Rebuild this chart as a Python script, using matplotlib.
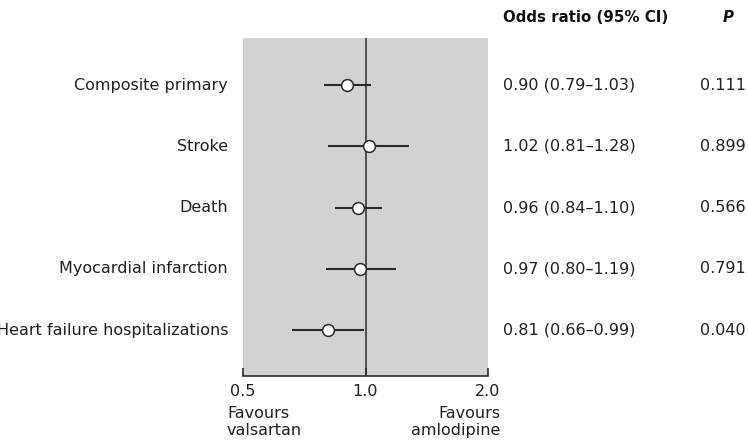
import matplotlib
matplotlib.use("Agg")
import matplotlib.pyplot as plt
from matplotlib.ticker import FixedLocator, NullLocator

plt.rcParams["font.family"] = ["DejaVu Sans"]

# Forest plot data
outcomes = [
    "Composite primary",
    "Stroke",
    "Death",
    "Myocardial infarction",
    "Heart failure hospitalizations",
]
odds_ratio = [0.90, 1.02, 0.96, 0.97, 0.81]
ci_low = [0.79, 0.81, 0.84, 0.80, 0.66]
ci_high = [1.03, 1.28, 1.10, 1.19, 0.99]
p_values = ["0.111", "0.899", "0.566", "0.791", "0.040"]
x_ticks = [0.5, 1.0, 2.0]
x_tick_labels = ["0.5", "1.0", "2.0"]

W, H = 748, 442
fig = plt.figure(figsize=(W / 100, H / 100), dpi=100)
ax = fig.add_axes([243 / W, 1 - 376 / H, 245 / W, 338 / H])

panel = "#d1d2d4"
ink = "#2a2a2a"
txt_col = "#231f20"
ax.set_facecolor(panel)
ax.set_xscale("log")
ax.set_xlim(0.5, 2.0)
n = len(outcomes)
rows = list(range(n))
ax.set_ylim(n - 1 + 0.75, -0.77)

# reference line at no effect
ax.axvline(1.0, color=ink, lw=1.1, zorder=2)

for y, o, lo, hi in zip(rows, odds_ratio, ci_low, ci_high):
    ax.plot([lo, hi], [y, y], color=ink, lw=1.5, zorder=3, solid_capstyle="butt")
    ax.plot([o], [y], marker="o", ms=8.5, mfc="white", mec=ink, mew=1.1, zorder=4)

for s in ("top", "left", "right"):
    ax.spines[s].set_visible(False)
ax.spines["bottom"].set_color(ink)
ax.spines["bottom"].set_linewidth(1.2)

ax.xaxis.set_major_locator(FixedLocator(x_ticks))
ax.xaxis.set_minor_locator(NullLocator())
ax.set_xticklabels(x_tick_labels)
ax.tick_params(axis="x", direction="in", length=6, width=1.2, color=ink,
               labelsize=11.5, labelcolor=txt_col, pad=6)
ax.set_yticks([])

# outcome labels on the left
for y, name in zip(rows, outcomes):
    ax.annotate(name, xy=(0, y), xycoords=("axes fraction", "data"),
                xytext=(-15, 0), textcoords="offset pixels",
                ha="right", va="center", fontsize=11.5, color=txt_col)

# odds ratio column and P column
for y, o, lo, hi, p in zip(rows, odds_ratio, ci_low, ci_high, p_values):
    txt = f"{o:.2f} ({lo:.2f}\u2013{hi:.2f})"
    ax.annotate(txt, xy=(1, y), xycoords=("axes fraction", "data"),
                xytext=(15, 0), textcoords="offset pixels",
                ha="left", va="center", fontsize=11.5, color=txt_col)
    ax.annotate(p, xy=(746 / W, y), xycoords=("figure fraction", "data"),
                ha="right", va="center", fontsize=11.5, color=txt_col)

fig.text(503 / W, 1 - 17 / H, "Odds ratio (95% CI)", ha="left", va="center",
         fontsize=10.8, fontweight="bold", color="#111111")
fig.text(728 / W, 1 - 17 / H, "P", ha="center", va="center",
         fontsize=10.8, fontweight="bold", fontstyle="italic", color="#111111")

fig.text(227 / W, 1 - 422 / H, "Favours\nvalsartan", ha="left", va="center",
         fontsize=11.5, color=txt_col, linespacing=1.1)
fig.text(500 / W, 1 - 422 / H, "Favours\namlodipine", ha="right", va="center",
         fontsize=11.5, color=txt_col, linespacing=1.1, multialignment="right")

fig.savefig("out.png", dpi=100)
